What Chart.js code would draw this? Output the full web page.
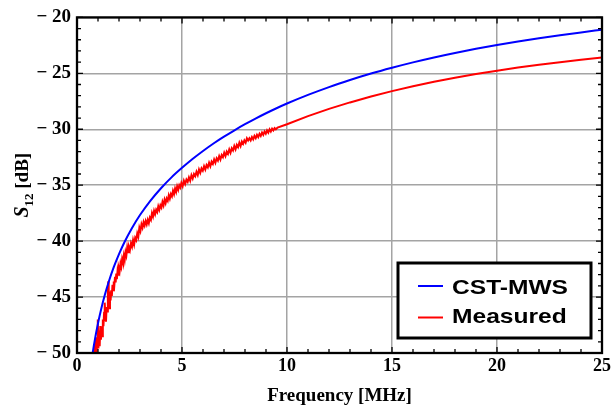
<!DOCTYPE html>
<html><head><meta charset="utf-8">
<script src="https://cdn.jsdelivr.net/npm/chart.js@4.4.1/dist/chart.umd.min.js"></script>
<style>html,body{margin:0;padding:0;background:#fff}#wrap{width:614px;height:409px}</style>
</head><body><div id="wrap"><canvas id="c" width="614" height="409"></canvas></div>
<script>
const seriesNames = ["CST-MWS", "Measured"];
const seriesColors = ["#0000ff", "#ff0000"];
const xTitle = "Frequency [MHz]";
const yTitleParts = ["S", "12", " [dB]"];
const xTicks = [0, 5, 10, 15, 20, 25];
const yTicks = [-50, -45, -40, -35, -30, -25, -20];

const cstFreq = [0.72,0.8,0.9,1.0,1.15,1.33,1.5,1.75,2.0,2.27,2.6,3.0,3.5,4.0,4.5,5.0,5.5,6.0,6.5,7.0,7.5,8.0,8.5,9.0,9.5,10,11,12,13,14,15,16,17,18,19,20,21,22,23,24,25];
const cstS12 = [-50.3,-49.36,-48.3,-47.35,-46.09,-44.78,-43.7,-42.33,-41.16,-40.06,-38.89,-37.67,-36.38,-35.27,-34.3,-33.45,-32.66,-31.94,-31.27,-30.66,-30.09,-29.55,-29.05,-28.57,-28.12,-27.7,-26.93,-26.23,-25.6,-25.02,-24.5,-24.02,-23.58,-23.18,-22.81,-22.47,-22.16,-21.87,-21.6,-21.34,-21.1];

const measFreq = [0.80,0.84,0.87,0.90,0.93,0.96,0.99,1.02,1.05,1.08,1.11,1.14,1.17,1.20,1.23,1.26,1.29,1.32,1.35,1.38,1.41,1.44,1.47,1.49,1.51,1.54,1.57,1.60,1.63,1.66,1.69,1.72,1.75,1.78,1.81,1.84,1.87,1.90,1.93,1.96,1.99,2.03,2.07,2.11,2.15,2.19,2.23,2.27,2.31,2.35,2.39,2.43,2.47,2.52,2.57,2.62,2.67,2.72,2.77,2.82,2.87,2.92,2.97,3.02,3.07,3.12,3.17,3.22,3.27,3.32,3.37,3.42,3.47,3.52,3.57,3.62,3.67,3.72,3.77,3.82,3.87,3.92,3.97,4.02,4.07,4.12,4.17,4.22,4.27,4.32,4.37,4.42,4.47,4.52,4.57,4.62,4.67,4.72,4.77,4.82,4.87,4.92,4.97,5.03,5.09,5.15,5.21,5.27,5.33,5.39,5.45,5.51,5.57,5.63,5.69,5.75,5.81,5.87,5.93,5.99,6.05,6.11,6.17,6.23,6.29,6.35,6.41,6.47,6.53,6.59,6.65,6.71,6.77,6.83,6.89,6.95,7.01,7.07,7.13,7.19,7.25,7.31,7.37,7.43,7.49,7.55,7.61,7.67,7.73,7.79,7.85,7.91,7.97,8.03,8.09,8.15,8.21,8.27,8.33,8.39,8.45,8.51,8.57,8.63,8.69,8.75,8.81,8.87,8.93,8.99,9.05,9.11,9.17,9.23,9.29,9.35,9.41,9.47,9.55,10,11,12,13,14,15,16,17,18,19,20,21,22,23,24,25];
const measS12 = [-50.8,-49.2,-50.6,-48.6,-50.3,-48.9,-47.0,-49.6,-48.0,-49.4,-47.6,-48.8,-47.9,-48.5,-47.0,-47.6,-46.4,-45.5,-46.8,-47.2,-45.9,-46.3,-44.6,-43.6,-45.2,-46.0,-44.5,-45.3,-44.4,-44.9,-43.9,-44.4,-43.6,-43.9,-43.2,-43.7,-42.9,-43.4,-42.7,-43.0,-42.4,-42.7,-42.0,-42.3,-41.6,-41.9,-41.3,-41.7,-41.0,-41.3,-40.6,-41.0,-40.5,-40.8,-40.2,-40.5,-39.9,-40.3,-39.7,-39.9,-39.3,-39.6,-38.8,-39.1,-38.5,-38.8,-38.3,-38.6,-38.2,-38.5,-38.1,-38.4,-37.9,-38.1,-37.5,-37.8,-37.3,-37.6,-37.2,-37.4,-36.9,-37.2,-36.8,-37.0,-36.5,-36.8,-36.3,-36.6,-36.2,-36.4,-35.9,-36.2,-35.8,-36.0,-35.5,-35.8,-35.3,-35.6,-35.1,-35.4,-35.0,-35.2,-34.8,-35.1,-34.6,-34.9,-34.5,-34.7,-34.3,-34.6,-34.1,-34.4,-34.0,-34.2,-33.8,-34.1,-33.6,-33.9,-33.5,-33.7,-33.3,-33.6,-33.2,-33.4,-33.0,-33.3,-32.9,-33.1,-32.7,-33.0,-32.6,-32.8,-32.4,-32.7,-32.3,-32.5,-32.1,-32.4,-32.0,-32.2,-31.8,-32.1,-31.7,-31.9,-31.5,-31.8,-31.4,-31.6,-31.2,-31.5,-31.1,-31.3,-31.0,-31.2,-30.8,-31.0,-30.8,-31.0,-30.7,-30.9,-30.6,-30.8,-30.5,-30.7,-30.4,-30.6,-30.3,-30.5,-30.2,-30.4,-30.1,-30.3,-30.0,-30.2,-29.95,-30.1,-29.9,-30.0,-29.85,-29.55,-28.83,-28.18,-27.6,-27.07,-26.59,-26.16,-25.76,-25.4,-25.06,-24.76,-24.48,-24.23,-24.0,-23.79,-23.59];

const toXY = (xs, ys) => xs.map((v, i) => ({x: v, y: ys[i]}));
const SERIF = '"Liberation Serif", "Times New Roman", serif';
const SANS = '"Liberation Sans", Arial, sans-serif';

const framePlugin = {
  id: 'frame',
  afterDatasetsDraw(chart) {
    const {ctx, chartArea: a, scales: {x, y}} = chart;
    ctx.save();
    ctx.strokeStyle = '#000';
    ctx.lineWidth = 1.3;
    ctx.beginPath();
    const xs = x.options.min, xe = x.options.max, ys = y.options.min, ye = y.options.max;
    for (let v = xs; v <= xe; v += 1) {
      const p = x.getPixelForValue(v), L = (v % 5 === 0) ? 6 : 4;
      ctx.moveTo(p, a.bottom); ctx.lineTo(p, a.bottom - L);
      ctx.moveTo(p, a.top); ctx.lineTo(p, a.top + L);
    }
    for (let v = ys; v <= ye; v += 1) {
      const p = y.getPixelForValue(v), L = (v % 5 === 0) ? 6 : 4;
      ctx.moveTo(a.left, p); ctx.lineTo(a.left + L, p);
      ctx.moveTo(a.right, p); ctx.lineTo(a.right - L, p);
    }
    ctx.stroke();
    ctx.lineWidth = 2.3;
    ctx.strokeRect(a.left, a.top, a.right - a.left, a.bottom - a.top);
    ctx.restore();
  },
  afterDraw(chart) {
    const {ctx, chartArea: a} = chart;
    ctx.save();
    ctx.fillStyle = '#000';
    ctx.textBaseline = 'alphabetic';
    const f1 = 'italic bold 20px ' + SERIF, f2 = 'bold 13px ' + SERIF, f3 = 'bold 19px ' + SERIF;
    ctx.font = f1; const w1 = ctx.measureText(yTitleParts[0]).width;
    ctx.font = f2; const w2 = ctx.measureText(yTitleParts[1]).width;
    ctx.font = f3; const w3 = ctx.measureText(yTitleParts[2]).width;
    const tot = w1 + w2 + w3;
    ctx.translate(28, (a.top + a.bottom) / 2);
    ctx.rotate(-Math.PI / 2);
    let cx = -tot / 2;
    ctx.font = f1; ctx.fillText(yTitleParts[0], cx, 0); cx += w1;
    ctx.font = f2; ctx.fillText(yTitleParts[1], cx, 5); cx += w2;
    ctx.font = f3; ctx.fillText(yTitleParts[2], cx, 0);
    ctx.restore();

    ctx.save();
    const bx = 398, by = 263, bw = 193, bh = 75;
    ctx.fillStyle = '#fff';
    ctx.fillRect(bx, by, bw, bh);
    ctx.strokeStyle = '#000';
    ctx.lineWidth = 3;
    ctx.strokeRect(bx, by, bw, bh);
    const rows = [{y: 286, base: 293.5}, {y: 317.5, base: 323}];
    chart.data.datasets.forEach((ds, i) => {
      ctx.strokeStyle = ds.borderColor;
      ctx.lineWidth = 2;
      ctx.beginPath();
      ctx.moveTo(418, rows[i].y); ctx.lineTo(443, rows[i].y);
      ctx.stroke();
      ctx.save();
      ctx.translate(452, rows[i].base);
      ctx.scale(1.17, 1);
      ctx.fillStyle = '#000';
      ctx.font = 'bold 21px ' + SANS;
      ctx.textBaseline = 'alphabetic';
      ctx.fillText(ds.label, 0, 0);
      ctx.restore();
    });
    ctx.restore();
  }
};

new Chart(document.getElementById('c'), {
  type: 'line',
  data: {
    datasets: [
      {label: seriesNames[0], data: toXY(cstFreq, cstS12), borderColor: seriesColors[0], borderWidth: 2, pointRadius: 0, cubicInterpolationMode: 'monotone', fill: false},
      {label: seriesNames[1], data: toXY(measFreq, measS12), borderColor: seriesColors[1], borderWidth: 2, pointRadius: 0, tension: 0, fill: false}
    ]
  },
  options: {
    responsive: false,
    animation: false,
    devicePixelRatio: 1,
    layout: {padding: {top: 15, right: 9, bottom: 0, left: 0}},
    plugins: {legend: {display: false}, tooltip: {enabled: false}},
    scales: {
      x: {
        type: 'linear', min: 0, max: 25,
        afterBuildTicks: s => { s.ticks = xTicks.map(v => ({value: v})); },
        afterFit: s => { s.height = 56; },
        ticks: {color: '#000', font: {family: SERIF, size: 18, weight: 'bold'}, padding: 3, maxRotation: 0},
        grid: {color: '#a4a4a4', lineWidth: 1.5, drawTicks: false},
        border: {display: false},
        title: {display: true, text: xTitle, color: '#000', font: {family: SERIF, size: 19, weight: 'bold'}, padding: {top: 0, bottom: 2}}
      },
      y: {
        type: 'linear', min: -50, max: -20,
        afterBuildTicks: s => { s.ticks = yTicks.map(v => ({value: v})); },
        afterFit: s => { s.width = 77; },
        ticks: {color: '#000', font: {family: SERIF, size: 19, weight: 'bold'}, padding: 6,
          callback: v => (v < 0 ? '\u2212 ' + Math.abs(v) : String(v))},
        grid: {color: '#a4a4a4', lineWidth: 1.5, drawTicks: false},
        border: {display: false}
      }
    }
  },
  plugins: [framePlugin]
});
</script>
</body></html>
